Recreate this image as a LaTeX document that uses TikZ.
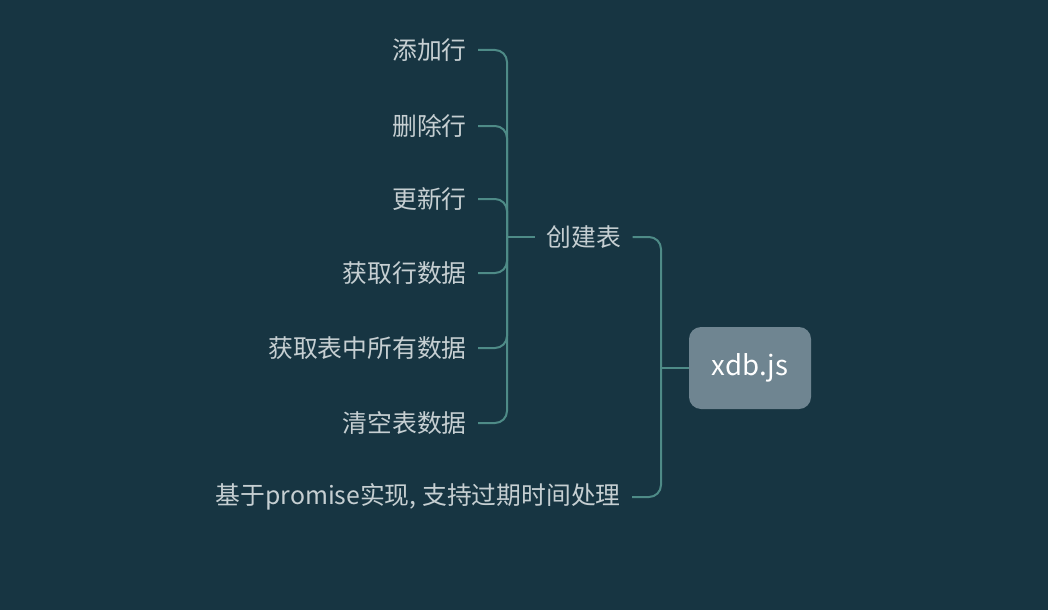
\documentclass[tikz,border=0pt]{standalone}
\usepackage{fontspec}
\setmainfont{Noto Sans CJK SC}
\usepackage{xcolor}
\usetikzlibrary{positioning}
\definecolor{bgblue}{HTML}{173542}
\definecolor{branch}{HTML}{4E8B87}
\definecolor{leaftext}{HTML}{C6CFD2}
\definecolor{rootfill}{HTML}{6F8591}
\tikzset{
	leaf/.style={text=leaftext,font=\fontsize{12.4}{14}\selectfont,inner xsep=5.5pt,inner ysep=2pt},
	rootbox/.style={fill=rootfill,rounded corners=6pt,text=white,font=\fontsize{13.8}{15}\selectfont,minimum width=61pt,minimum height=41pt},
	conn/.style={draw=branch,line width=1pt,rounded corners=6pt}
}
\begin{document}
\begin{tikzpicture}[x=0.5pt,y=-0.5pt]
		% background
		\fill[bgblue] (0,0) rectangle (1048,610);
		\useasboundingbox (0,0) rectangle (1048,610);

		% draw root
		\node (root) at (750,368) [rootbox] {xdb.js};

		% draw first level
		\node (T1) at (584,237) [leaf] {创建表};
		\node (T2) at (632,497) [leaf,anchor=east] {基于promise实现, 支持过期时间处理};

		% draw leaves of T1
		\node (L1) at (478,50) [leaf,anchor=east] {添加行};
		\node (L2) at (478,126) [leaf,anchor=east] {删除行};
		\node (L3) at (478,199) [leaf,anchor=east] {更新行};
		\node (L4) at (478,273) [leaf,anchor=east] {获取行数据};
		\node (L5) at (478,348) [leaf,anchor=east] {获取表中所有数据};
		\node (L6) at (478,423) [leaf,anchor=east] {清空表数据};

		% junctions
		\coordinate (J0) at (661,368);
		\coordinate (J1) at (507,237);

		% draw lines from root to first level
		\draw[conn] (root.west) to (J0);
		\draw[conn] (T1.east) -| (J0);
		\draw[conn] (T2.east) -| (J0);

		% draw lines from T1 to leaves
		\draw[conn] (J1) to (T1.west);
		\draw[conn] (L1.east) -| (J1);
		\draw[conn] (L2.east) -| (J1);
		\draw[conn] (L3.east) -| (J1);
		\draw[conn] (L4.east) -| (J1);
		\draw[conn] (L5.east) -| (J1);
		\draw[conn] (L6.east) -| (J1);
	\end{tikzpicture}
\end{document}
